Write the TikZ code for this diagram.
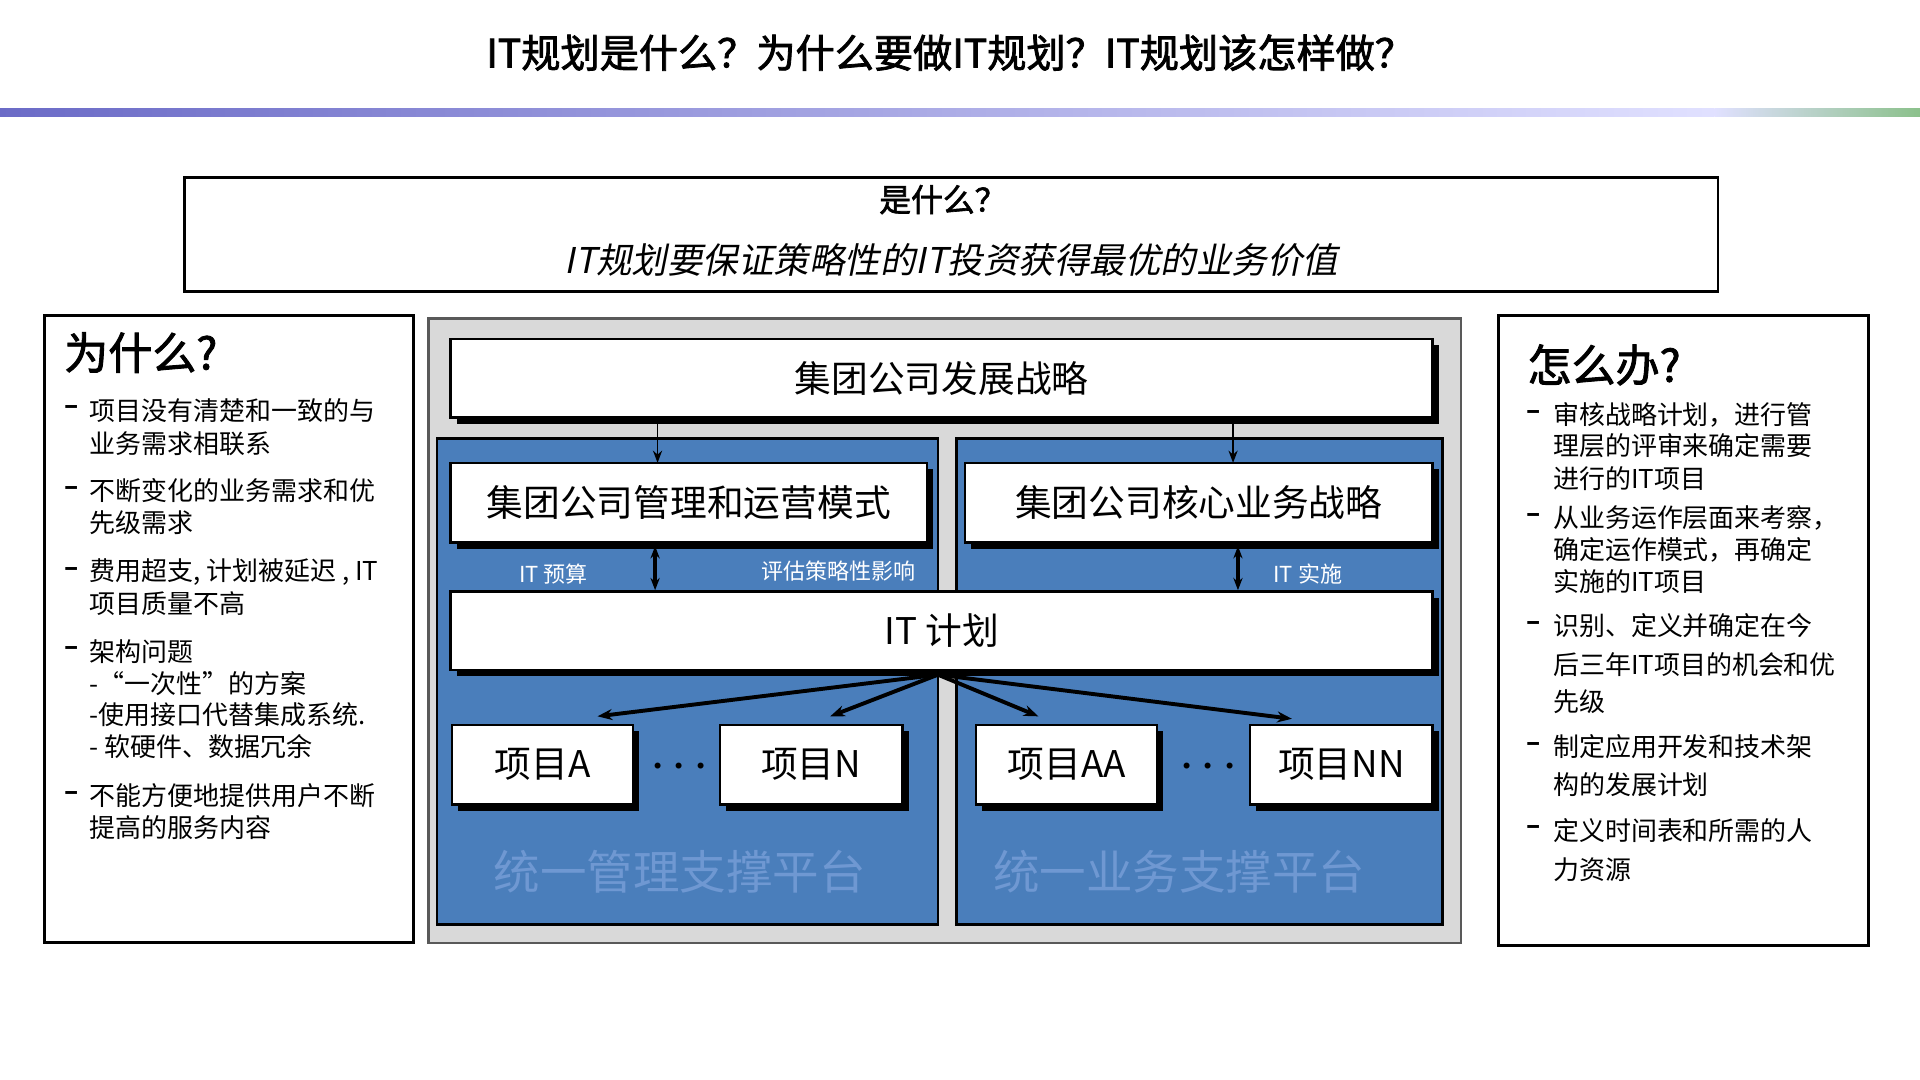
\documentclass[tikz,border=0pt]{standalone}
\usepackage{fontspec}
\usetikzlibrary{arrows.meta}
\setmainfont{Liberation Serif}
\newfontfamily\cjk{Noto Sans CJK SC}
\newfontfamily\cjkb{Noto Sans CJK SC}[FakeBold=2]
\newfontfamily\cjki{Noto Sans CJK SC}[FakeSlant=0.2]
\begin{document}
\begin{tikzpicture}[x=0.5pt,y=-0.5pt,
  lbl/.style={anchor=west,font=\cjk\fontsize{10.6}{12}\selectfont,inner sep=0},
  wl/.style={font=\cjk\fontsize{9}{11}\selectfont,text=white,inner sep=0},
  plat/.style={font=\cjk\fontsize{19}{22}\selectfont,text=platc,inner sep=0},
  arr/.style={-{Stealth[length=5pt]},line width=0.6pt},
  darr/.style={{Stealth[length=5pt]}-{Stealth[length=5pt]},line width=1.4pt},
  tarr/.style={-{Stealth[length=6pt]},line width=1.6pt}]
\definecolor{platc}{HTML}{6F98D2}
\definecolor{panel}{HTML}{4A7EBB}
\useasboundingbox (0,0) rectangle (1568,882);
\fill[white] (0,0) rectangle (1568,882);
\node (title) at (776,43) {\cjkb\fontsize{16}{18}\selectfont IT规划是什么？为什么要做IT规划？IT规划该怎样做？};
\shade[left color=blue!45!gray!80, right color=blue!12] (0,89) rectangle (1400,95);
\shade[left color=blue!12, right color=green!30!gray!70] (1400,89) rectangle (1568,95);
% top box
\draw[line width=1.2pt] (151,145) rectangle (1403,238);
\node (what) at (770,163) {\cjkb\fontsize{13}{16}\selectfont 是什么？};
\node (whattxt) at (777,212) {\cjki\fontsize{14.5}{17}\selectfont IT规划要保证策略性的IT投资获得最优的业务价值};
% left box
\draw[line width=1.2pt] (36,258) rectangle (338,770);
\node[anchor=west,inner sep=0] (why) at (52,288) {\cjkb\fontsize{18}{20}\selectfont 为什么?};
\foreach \y in {335,401,467,532,650} \node[lbl] at (52,\y) {\textbf{–}};
\node[lbl] (l1) at (73,335) {项目没有清楚和一致的与};
\node[lbl] (l2) at (73,362) {业务需求相联系};
\node[lbl] (l3) at (73,401) {不断变化的业务需求和优};
\node[lbl] (l4) at (73,427) {先级需求};
\node[lbl] (l5) at (73,467) {费用超支, 计划被延迟 , IT};
\node[lbl] (l6) at (73,493) {项目质量不高};
\node[lbl] (l7) at (73,532) {架构问题};
\node[lbl] (l8) at (73,558) {-“一次性”的方案};
\node[lbl] (l9) at (73,584) {-使用接口代替集成系统.};
\node[lbl] (l10) at (73,610) {- 软硬件、数据冗余};
\node[lbl] (l11) at (73,650) {不能方便地提供用户不断};
\node[lbl] (l12) at (73,676) {提高的服务内容};
% right box
\draw[line width=1.2pt] (1224,258) rectangle (1526,772);
\node[anchor=west,inner sep=0] (how) at (1247,298) {\cjkb\fontsize{18}{20}\selectfont 怎么办?};
\foreach \y in {339,423,511,610,678} \node[lbl] at (1246,\y) {\textbf{–}};
\node[lbl] (r1) at (1268,339) {审核战略计划，进行管};
\node[lbl] (r2) at (1268,364) {理层的评审来确定需要};
\node[lbl] (r3) at (1268,391) {进行的IT项目};
\node[lbl] (r4) at (1268,423) {从业务运作层面来考察，};
\node[lbl] (r5) at (1268,449) {确定运作模式，再确定};
\node[lbl] (r6) at (1268,475) {实施的IT项目};
\node[lbl] (r7) at (1268,511) {识别、定义并确定在今};
\node[lbl] (r8) at (1268,543) {后三年IT项目的机会和优};
\node[lbl] (r9) at (1268,573) {先级};
\node[lbl] (r10) at (1268,610) {制定应用开发和技术架};
\node[lbl] (r11) at (1268,641) {构的发展计划};
\node[lbl] (r12) at (1268,678) {定义时间表和所需的人};
\node[lbl] (r13) at (1268,710) {力资源};
% center
\draw[gray!70!black,fill=gray!30,line width=1pt] (350,260) rectangle (1193,770);
\draw[fill=panel,line width=1pt] (357,358) rectangle (766,755);
\draw[fill=panel,line width=1pt] (781,358) rectangle (1178,755);
\node[plat] (p1) at (555,712) {统一管理支撑平台};
\node[plat] (p2) at (963,712) {统一业务支撑平台};
\newcommand\wb[6]{%
 \fill[black] (#1+5,#2+5) rectangle (#3+5,#4+5);
 \draw[fill=white,line width=1pt] (#1,#2) rectangle (#3,#4);
 \node[font=\cjk\fontsize{15}{18}\selectfont] (#5) at ({(#1+#3)/2},{(#2+#4)/2}) {#6};}
\wb{368}{277}{1170}{341}{strat}{集团公司发展战略}
\wb{368}{378}{757}{443}{mgmt}{集团公司管理和运营模式}
\wb{788}{378}{1170}{443}{core}{集团公司核心业务战略}
\wb{368}{483}{1170}{547}{itp}{IT 计划}
\wb{369}{592}{517}{657}{pa}{项目A}
\wb{588}{592}{737}{657}{pn}{项目N}
\wb{797}{592}{945}{657}{paa}{项目AA}
\wb{1021}{592}{1170}{657}{pnn}{项目NN}
\node (d1) at (555,626) {\fontsize{15}{18}\selectfont\bfseries . . .};
\node (d2) at (987,626) {\fontsize{15}{18}\selectfont\bfseries . . .};
\draw[arr] (537,341) -- (537,378);
\draw[arr] (1007,341) -- (1007,378);
\draw[darr] (535,446) -- (535,482);
\draw[darr] (1011,446) -- (1011,482);
\node[wl] (w1) at (452,469) {IT 预算};
\node[wl] (w2) at (685,466) {评估策略性影响};
\node[wl] (w3) at (1068,469) {IT 实施};
\coordinate (src) at (766,551);
\draw[tarr] (src) -- (488,585);
\draw[tarr] (src) -- (678,585);
\draw[tarr] (src) -- (848,585);
\draw[tarr] (src) -- (1055,587);
\end{tikzpicture}
\end{document}
